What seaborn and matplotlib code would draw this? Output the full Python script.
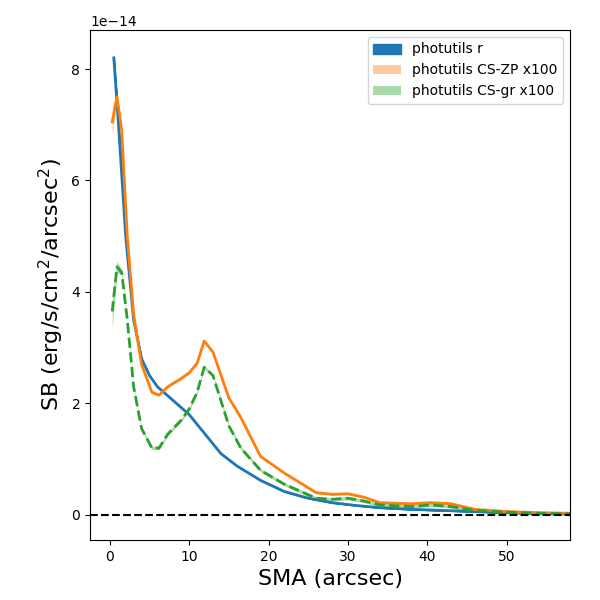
import matplotlib
matplotlib.use('Agg')
from matplotlib import pyplot as plt
import seaborn as sns
import numpy as np

sma_r = [0.5, 1, 2, 3, 4, 5, 6, 8, 10, 12, 14, 16, 19, 22, 25, 28, 31, 34, 38, 42, 46, 50, 54, 58]
sb_r = [8.2, 7.2, 5.0, 3.5, 2.8, 2.5, 2.3, 2.05, 1.8, 1.45, 1.1, 0.88, 0.62, 0.42, 0.3, 0.22,
        0.17, 0.13, 0.1, 0.08, 0.06, 0.04, 0.03, 0.02]

sma_c = [0.3, 0.9, 1.5, 2.2, 3, 4, 5.3, 6.2, 7.3, 9, 10, 11, 11.9, 13, 15, 16.5, 19, 22, 26, 28,
         30, 32, 34, 38, 40.5, 43, 46, 50, 54, 58]
sb_zp = [7.05, 7.5, 6.9, 5.0, 3.6, 2.7, 2.2, 2.15, 2.3, 2.45, 2.55, 2.72, 3.12, 2.92, 2.1, 1.75,
         1.05, 0.75, 0.4, 0.37, 0.38, 0.32, 0.22, 0.2, 0.22, 0.2, 0.1, 0.06, 0.04, 0.03]
sb_gr = [3.65, 4.45, 4.35, 3.5, 2.3, 1.55, 1.2, 1.2, 1.45, 1.7, 1.9, 2.2, 2.65, 2.5, 1.6, 1.2,
         0.8, 0.55, 0.3, 0.28, 0.3, 0.25, 0.18, 0.15, 0.18, 0.15, 0.08, 0.05, 0.03, 0.02]
# rough error widths (1e-14)
err_zp = [0.25, 0.1, 0.05, 0.03] + [0.02] * 26
err_gr = [0.3, 0.1, 0.05, 0.03] + [0.03] * 26

plt.rcParams['font.family'] = ['DejaVu Sans']
fig, ax = plt.subplots(figsize=(6, 6), dpi=100)
fig.subplots_adjust(left=0.15, right=0.95, top=0.95, bottom=0.1)

cols = sns.color_palette('tab10')
r = np.array(sb_r) * 1e-14
zp = np.array(sb_zp) * 1e-14
gr = np.array(sb_gr) * 1e-14
ezp = np.array(err_zp) * 1e-14
egr = np.array(err_gr) * 1e-14

ax.fill_between(sma_r, r * 0.998, r * 1.002, color=cols[0], label='photutils r')
sns.lineplot(x=sma_r, y=r, color=cols[0], lw=2, ax=ax)
ax.fill_between(sma_c, zp - ezp, zp + ezp, color=cols[1], alpha=0.4, lw=0, label='photutils CS-ZP x100')
sns.lineplot(x=sma_c, y=zp, color=cols[1], lw=2, ax=ax)
ax.fill_between(sma_c, gr - egr, gr + egr, color=cols[2], alpha=0.4, lw=0, label='photutils CS-gr x100')
sns.lineplot(x=sma_c, y=gr, color=cols[2], lw=2, ls='--', ax=ax)

ax.axhline(0, color='black', ls='--', lw=1.5)
ax.set_xlim(-2.5, 58)
ax.set_ylim(-0.45e-14, 8.7e-14)
ax.set_xlabel('SMA (arcsec)', fontsize=16)
ax.set_ylabel('SB (erg/s/cm$^2$/arcsec$^2$)', fontsize=16)
ax.legend(loc='upper right')

plt.savefig('out.png')
